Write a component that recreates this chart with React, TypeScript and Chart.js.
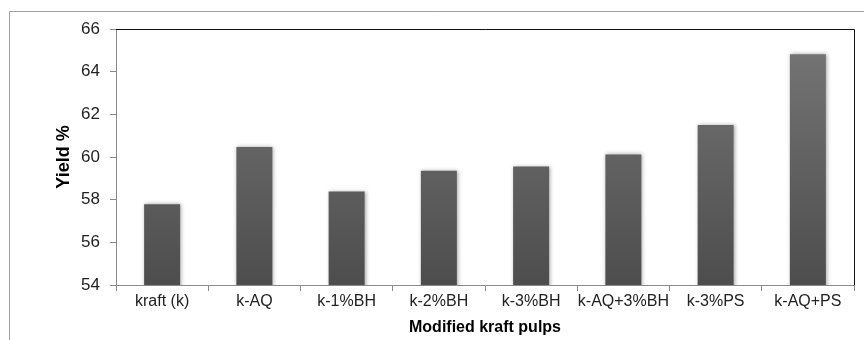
import React, { useEffect, useRef } from "react";
import { Chart, registerables } from "chart.js";

Chart.register(...registerables);

const categories = ["kraft (k)", "k-AQ", "k-1%BH", "k-2%BH", "k-3%BH", "k-AQ+3%BH", "k-3%PS", "k-AQ+PS"];
const yieldValues = [57.78, 60.47, 58.38, 59.35, 59.55, 60.12, 61.5, 64.82];
const yMin = 54;
const yMax = 66;
const yStep = 2;

const FONT = "'Liberation Sans', Arial, sans-serif";

const framePlugin = {
  id: "frame",
  beforeDatasetsDraw(chart: any) {
    const c = chart.ctx;
    c.save();
    c.shadowColor = "rgba(0,0,0,0.35)";
    c.shadowBlur = 4;
    c.shadowOffsetX = 1;
    c.shadowOffsetY = 0;
  },
  afterDatasetsDraw(chart: any) {
    chart.ctx.restore();
  },
  afterDraw(chart: any) {
    const c = chart.ctx;
    const a = chart.chartArea;
    c.save();
    c.strokeStyle = "#a0a0a0";
    c.lineWidth = 1;
    c.beginPath();
    c.moveTo(9.5, 340);
    c.lineTo(9.5, 11.5);
    c.lineTo(864, 11.5);
    c.stroke();
    c.strokeStyle = "#111";
    c.beginPath();
    c.moveTo(a.left, a.top + 0.5);
    c.lineTo(a.right + 0.5, a.top + 0.5);
    c.lineTo(a.right + 0.5, a.bottom);
    c.stroke();
    c.restore();
  },
};

export default function App() {
  const ref = useRef<HTMLCanvasElement | null>(null);
  useEffect(() => {
    document.body.style.margin = "0";
    const canvas = ref.current!;
    const chart = new Chart(canvas, {
      type: "bar",
      data: {
        labels: categories,
        datasets: [
          {
            data: yieldValues,
            backgroundColor: (ctx: any) => {
              const area = ctx.chart.chartArea;
              if (!area) return "#606060";
              const g = ctx.chart.ctx.createLinearGradient(0, area.top, 0, area.bottom);
              g.addColorStop(0, "#777777");
              g.addColorStop(1, "#4d4d4d");
              return g;
            },
            borderWidth: 0,
            barPercentage: 0.39,
            categoryPercentage: 1,
          },
        ],
      },
      options: {
        responsive: false,
        animation: false,
        devicePixelRatio: 1,
        layout: { padding: { left: 9, top: 29, right: 10, bottom: 0 } },
        plugins: { legend: { display: false }, tooltip: { enabled: false } },
        scales: {
          x: {
            afterFit: (s: any) => {
              s.height = 55;
            },
            grid: { drawOnChartArea: false, drawTicks: true, tickLength: 6, color: "#8a8a8a", offset: true },
            border: { display: true, color: "#8a8a8a" },
            ticks: { color: "#222", font: { family: FONT, size: 16 }, padding: 1, maxRotation: 0, autoSkip: false },
            title: {
              display: true,
              text: "Modified kraft pulps",
              color: "#000",
              font: { family: FONT, size: 16, weight: "bold" },
              padding: { top: 0, bottom: 3 },
            },
          },
          y: {
            min: yMin,
            max: yMax,
            afterFit: (s: any) => {
              s.width = 107;
            },
            grid: { drawOnChartArea: false, drawTicks: true, tickLength: 6, color: "#8a8a8a" },
            border: { display: true, color: "#8a8a8a" },
            ticks: { stepSize: yStep, color: "#222", font: { family: FONT, size: 17 }, padding: 10 },
            title: {
              display: true,
              text: "Yield %",
              color: "#000",
              font: { family: FONT, size: 18, weight: "bold" },
              padding: { top: 44, bottom: 0 },
            },
          },
        },
      },
      plugins: [framePlugin],
    } as any);
    return () => chart.destroy();
  }, []);
  return (
    <div style={{ width: 864, height: 340 }}>
      <canvas ref={ref} width={864} height={340} style={{ display: "block" }} />
    </div>
  );
}
